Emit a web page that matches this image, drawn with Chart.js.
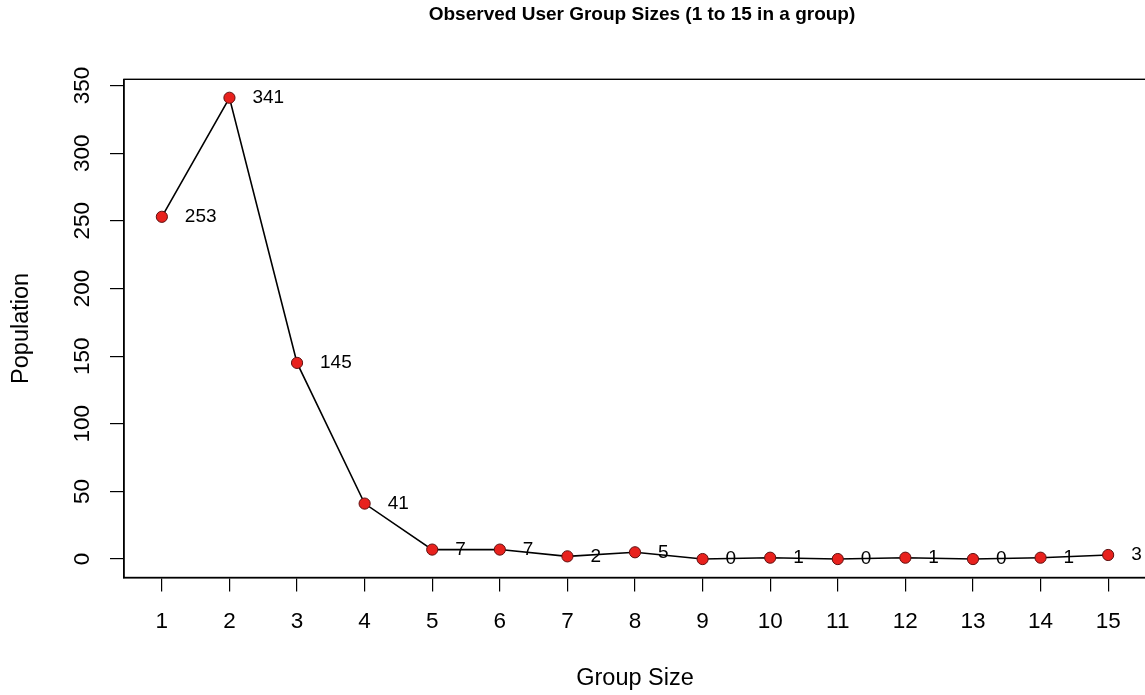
<!DOCTYPE html>
<html>
<head>
<meta charset="utf-8">
<title>Observed User Group Sizes</title>
<script src="https://cdn.jsdelivr.net/npm/chart.js@4.4.1/dist/chart.umd.min.js"></script>
<style>
  html, body { margin: 0; padding: 0; background: #fff; overflow: hidden; }
  canvas { display: block; }
</style>
</head>
<body>
<canvas id="grafico-grupos" width="1160" height="695"></canvas>
<script>
// dados observados
const tamanhos = [1, 2, 3, 4, 5, 6, 7, 8, 9, 10, 11, 12, 13, 14, 15];
const populacao = [253, 341, 145, 41, 7, 7, 2, 5, 0, 1, 0, 1, 0, 1, 3];
const ticksY = [0, 50, 100, 150, 200, 250, 300, 350];

const FONTE = "'Liberation Sans', Arial, Helvetica, sans-serif";

const canvas = document.getElementById("grafico-grupos");
if (!canvas) throw new Error("Canvas não encontrado!");
if (typeof Chart === "undefined") throw new Error("Chart.js não carregou!");

// limites no estilo R (4% de folga)
const faixaX = tamanhos[tamanhos.length - 1] - tamanhos[0];
const maxY = Math.max(...populacao);

// título acima da área do gráfico
const tituloPlugin = {
  id: "tituloPrincipal",
  afterDraw(chart) {
    const { ctx, chartArea } = chart;
    ctx.save();
    ctx.font = "bold 19px " + FONTE;
    ctx.fillStyle = "#000";
    ctx.textAlign = "center";
    ctx.textBaseline = "middle";
    ctx.fillText("Observed User Group Sizes (1 to 15 in a group)", (chartArea.left + chartArea.right) / 2 + 7, 14.5);
    ctx.restore();
  }
};

// caixa em volta da área do gráfico
const caixaPlugin = {
  id: "caixa",
  beforeDatasetsDraw(chart) {
    const { ctx, chartArea } = chart;
    ctx.save();
    ctx.strokeStyle = "#000";
    ctx.lineWidth = 1.4;
    ctx.strokeRect(chartArea.left, chartArea.top, chartArea.right - chartArea.left, chartArea.bottom - chartArea.top);
    ctx.restore();
  }
};

// rótulos com o valor ao lado de cada ponto
const rotulosPlugin = {
  id: "rotulos",
  afterDatasetsDraw(chart) {
    const { ctx } = chart;
    const meta = chart.getDatasetMeta(0);
    ctx.save();
    ctx.font = "19px " + FONTE;
    ctx.fillStyle = "#000";
    ctx.textAlign = "left";
    ctx.textBaseline = "middle";
    meta.data.forEach((pt, i) => {
      ctx.fillText(String(populacao[i]), pt.x + 23, pt.y);
    });
    ctx.restore();
  }
};

const grafico = new Chart(canvas.getContext("2d"), {
  type: "line",
  data: {
    datasets: [{
      label: "Population",
      data: tamanhos.map((t, i) => ({ x: t, y: populacao[i] })),
      borderColor: "#000",
      borderWidth: 1.6,
      pointRadius: 5.6,
      pointBorderWidth: 1,
      pointBackgroundColor: "#e8211d",
      pointBorderColor: "#5e1010",
      tension: 0,
      clip: false
    }]
  },
  options: {
    responsive: false,
    animation: false,
    events: [],
    devicePixelRatio: 1,
    layout: { padding: { top: 79.3, left: 0, right: 14, bottom: 0 } },
    plugins: {
      legend: { display: false },
      tooltip: { enabled: false },
      title: { display: false }
    },
    scales: {
      x: {
        type: "linear",
        min: tamanhos[0] - faixaX * 0.04,
        max: tamanhos[tamanhos.length - 1] + faixaX * 0.04,
        afterBuildTicks: (s) => { s.ticks = tamanhos.map(v => ({ value: v })); },
        afterFit: (s) => { s.height = 117.5; },
        grid: { display: true, drawOnChartArea: false, drawTicks: true, tickLength: 14, color: "#000", lineWidth: 1.2 },
        border: { display: true, color: "#000", width: 1.4 },
        ticks: { color: "#000", font: { family: FONTE, size: 22.5 }, padding: 17, maxRotation: 0, autoSkip: false },
        title: { display: true, text: "Group Size", color: "#000", font: { family: FONTE, size: 23.5, lineHeight: 1 }, padding: { top: 0, bottom: 4.75 } }
      },
      y: {
        type: "linear",
        min: 0 - maxY * 0.04,
        max: maxY + maxY * 0.04,
        afterBuildTicks: (s) => { s.ticks = ticksY.map(v => ({ value: v })); },
        afterFit: (s) => { s.width = 124; },
        grid: { display: true, drawOnChartArea: false, drawTicks: true, tickLength: 14, color: "#000", lineWidth: 1.2 },
        border: { display: true, color: "#000", width: 1.4 },
        ticks: { color: "#000", font: { family: FONTE, size: 22.5 }, padding: 8.5, minRotation: 90, maxRotation: 90, crossAlign: "center", autoSkip: false },
        title: { display: true, text: "Population", color: "#000", font: { family: FONTE, size: 23.5, lineHeight: 1 }, padding: { top: 9.75, bottom: 0 } }
      }
    }
  },
  plugins: [caixaPlugin, rotulosPlugin, tituloPlugin]
});
</script>
</body>
</html>
